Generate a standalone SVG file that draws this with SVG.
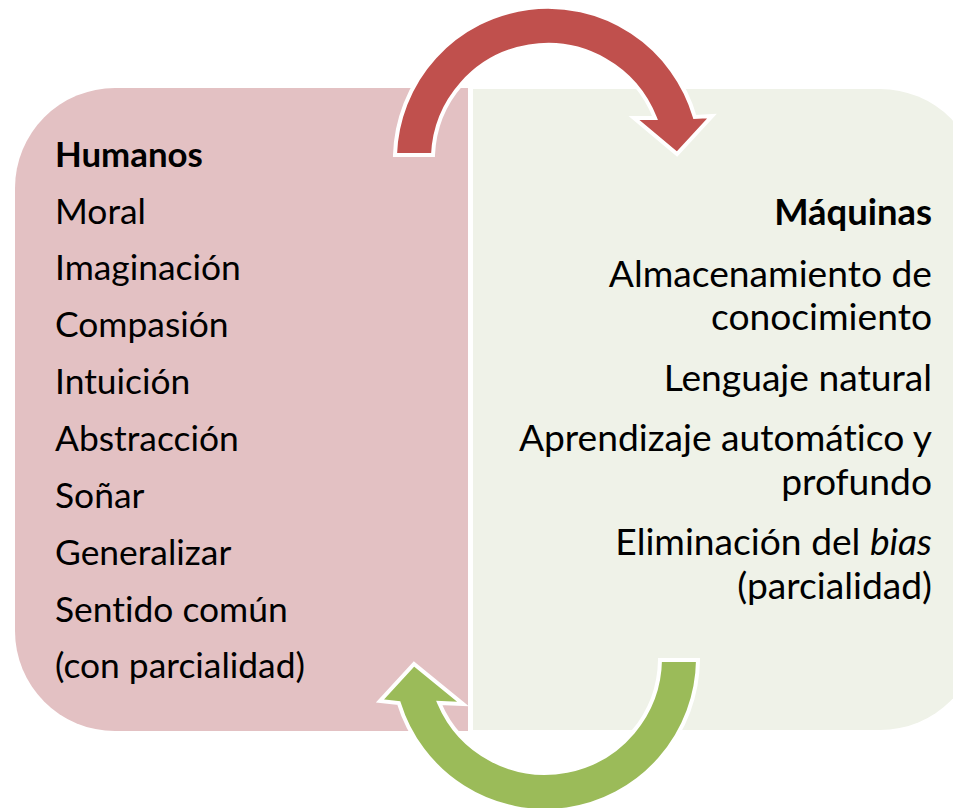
<svg xmlns="http://www.w3.org/2000/svg" width="953" height="808" viewBox="0 0 953 808">
<style>
.t{font-family:Lato,"Liberation Sans",sans-serif;font-size:35.4px;fill:#000;font-variant-ligatures:none}
.b{font-weight:bold;font-size:34.8px}
.r{text-anchor:end;font-size:37.2px}
.rb{font-weight:bold;font-size:36.4px}
.arrow{stroke:#fff;stroke-width:4;stroke-linejoin:miter}
</style>
<rect width="953" height="808" fill="#fff"/>
<g id="humanos">
<path d="M115,88 H468 V731 H115 A100,100 0 0 1 15,631 V188 A100,100 0 0 1 115,88 Z" fill="#E3C1C3"/>
<text class="t b" x="55" y="167">Humanos</text>
<text class="t" x="55" y="224">Moral</text>
<text class="t" x="55" y="280">Imaginación</text>
<text class="t" x="55" y="337">Compasión</text>
<text class="t" x="55" y="394">Intuición</text>
<text class="t" x="55" y="451">Abstracción</text>
<text class="t" x="55" y="508">Soñar</text>
<text class="t" x="55" y="565">Generalizar</text>
<text class="t" x="55" y="622">Sentido común</text>
<text class="t" x="55" y="678">(con parcialidad)</text>
</g>
<g id="maquinas">
<path d="M473,89 H880 A100,100 0 0 1 980,189 V630 A100,100 0 0 1 880,730 H473 Z" fill="#EFF2E8"/>
<text class="t r rb" x="932" y="225">Máquinas</text>
<text class="t r" x="932" y="287">Almacenamiento de</text>
<text class="t r" x="932" y="330">conocimiento</text>
<text class="t r" x="932" y="391">Lenguaje natural</text>
<text class="t r" x="932" y="451">Aprendizaje automático y</text>
<text class="t r" x="932" y="495">profundo</text>
<text class="t r" x="932" y="555">Eliminación del <tspan font-style="italic">bias</tspan></text>
<text class="t r" x="932" y="599">(parcialidad)</text>
</g>
<g id="connectors">
<path id="arrow-top" class="arrow" fill="#C0504D" d="M395,155 A153,153 0 0 1 694.8,117 L712,116 L677,154 L634,118 L655,118 A115,115 0 0 0 433,155 Z"/>
<path id="arrow-bottom" class="arrow" fill="#9BBB59" d="M698,660 A153,153 0 0 1 398.8,703 L380,701 L414,664 L463,704 L439.2,703 A115,115 0 0 0 660,660 Z"/>
</g>
</svg>
